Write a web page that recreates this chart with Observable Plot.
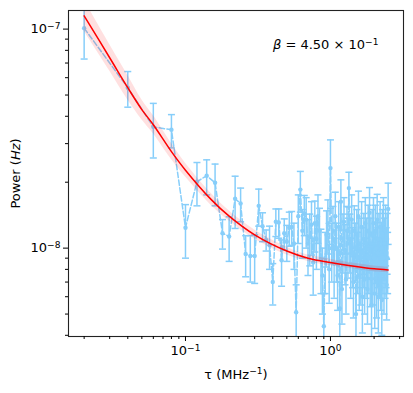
<!DOCTYPE html>
<html>
<head>
<meta charset="utf-8">
<script src="https://cdn.jsdelivr.net/npm/d3@7"></script>
<script src="https://cdn.jsdelivr.net/npm/@observablehq/plot@0.6"></script>
<style>
  html, body { margin: 0; padding: 0; background: white; }
  #chart { width: 413px; height: 393px; }
</style>
</head>
<body>
<div id="chart"></div>
<script>
// ---- data (power values in units of 1e-9 Hz) ----
const unit = 1e-9;
const tau = [0.02,0.04,0.06,0.08,0.10,0.12,0.14,0.16,0.18,0.20,0.22,0.24,0.26,0.28,0.30,0.32,0.34,0.36,0.38,0.40,
  0.42,0.44,0.46,0.48,0.50,0.52,0.54,0.56,0.58,0.60,0.62,0.64,0.66,0.68,0.70,0.72,0.74,0.76,0.78,0.80,
  0.82,0.84,0.86,0.88,0.90,0.92,0.94,0.96,0.98,1.00,1.02,1.04,1.06,1.08,1.10,1.12,1.14,1.16,1.18,1.20,
  1.22,1.24,1.26,1.28,1.30,1.32,1.34,1.36,1.38,1.40,1.42,1.44,1.46,1.48,1.50,1.52,1.54,1.56,1.58,1.60,
  1.62,1.64,1.66,1.68,1.70,1.72,1.74,1.76,1.78,1.80,1.82,1.84,1.86,1.88,1.90,1.92,1.94,1.96,1.98,2.00,
  2.02,2.04,2.06,2.08,2.10,2.12,2.14,2.16,2.18,2.20,2.22,2.24,2.26,2.28,2.30,2.32,2.34,2.36,2.38,2.40,
  2.42,2.44,2.46,2.48,2.50];
const power = [101,54,35.8,34.7,12.4,20.1,21.4,19.9,11.7,11.3,16.8,16.0,9.4,9.2,9.2,15.6,12.6,10.9,10.3,7.0,
  13.2,13.1,8.8,11.7,10.7,12.4,12.5,10.5,5.1,14.0,18.5,12.0,14.4,13.5,10.5,11.3,12.8,8.6,13.0,11.0,
  14.0,12.0,9.2,7.5,4.4,9.0,11.5,13.0,8.0,23.2,10.0,12.0,8.5,14.0,10.0,7.5,12.5,5.3,16.3,6.5,
  11.0,13.2,9.8,7.2,12.0,10.5,18.8,11.0,8.5,13.5,9.5,7.0,12.0,10.0,5.0,11.5,9.0,14.0,7.5,10.5,
  8.0,12.5,6.0,9.5,11.0,7.2,13.0,8.5,10.5,6.5,12.0,9.0,14.5,7.8,10.5,5.5,11.5,8.0,13.0,9.0,
  6.2,12.0,10.0,7.0,13.5,9.5,6.0,11.0,8.5,12.5,7.5,10.0,5.8,11.5,9.0,13.0,7.2,10.5,8.5,12.0,
  9.5,6.8,11.0,9.0,15.1];
const powerErr = [28,10,10,6,3.4,4.5,3.9,4.3,1.8,2.6,4.5,2.8,2.0,2.2,2.3,3.0,1.9,1.2,2.3,1.5,
  1.9,2.0,2.1,1.9,2.0,2.2,2.2,2.5,1.7,3.5,3.9,3.0,3.0,3.5,3.0,3.0,3.5,2.5,3.4,3.0,
  3.5,3.2,3.0,2.5,1.8,2.8,3.3,3.6,2.4,8.0,3.0,3.5,2.6,4.0,3.0,2.3,3.8,1.7,4.2,2.0,
  3.3,3.8,3.0,2.2,3.5,3.2,3.4,3.3,2.6,4.0,2.9,2.2,3.6,3.0,1.6,3.5,2.8,4.2,2.3,3.2,
  2.5,3.8,1.9,2.9,3.4,2.2,4.0,2.6,3.2,2.0,3.7,2.8,4.4,2.4,3.2,1.7,3.5,2.5,4.0,2.8,
  1.9,3.7,3.1,2.2,4.1,2.9,1.9,3.4,2.6,3.8,2.3,3.1,1.8,3.5,2.8,4.0,2.2,3.2,2.6,3.7,
  2.9,2.1,3.4,2.8,4.7];
// fitted model curve and its confidence band
const fitTau = [0.02,0.03,0.04,0.05,0.06,0.08,0.10,0.15,0.20,0.30,0.50,0.70,1.00,1.50,2.00,2.50];
const fitPower = [115,74,54,42.9,36.6,27.6,22.7,16.7,14.0,11.5,9.7,9.0,8.6,8.25,8.05,7.95];
const fitLower = [97.8,64.4,47.5,38.6,33.3,25.4,21.1,15.7,13.3,11.0,9.3,8.7,8.3,8.0,7.8,7.71];
const fitUpper = [135.7,85.1,61.6,47.6,40.3,30.1,24.4,17.8,14.8,12.1,10.1,9.3,8.9,8.5,8.29,8.19];
const annotation = "β = 4.50 × 10^-1";
const xLabel = "τ (MHz^-1)";
const yLabel = "Power (Hz)";
const xTicks = [0.1, 1];
const xTickLabels = ["10^-1", "10^0"];
const yTicks = [1e-8, 1e-7];
const yTickLabels = ["10^-8", "10^-7"];
const xMinor = [0.02,0.03,0.04,0.05,0.06,0.07,0.08,0.09,0.2,0.3,0.4,0.5,0.6,0.7,0.8,0.9,2,3];
const yMinor = [4e-9,5e-9,6e-9,7e-9,8e-9,9e-9,2e-8,3e-8,4e-8,5e-8,6e-8,7e-8,8e-8,9e-8];

// ---- tables ----
const data = tau.map((t, i) => ({
  tau: t, p: power[i] * unit,
  lo: (power[i] - powerErr[i]) * unit, hi: (power[i] + powerErr[i]) * unit
}));
const fit = fitTau.map((t, i) => ({
  tau: t, p: fitPower[i] * unit, lo: fitLower[i] * unit, hi: fitUpper[i] * unit
}));
const labelFor = (ticks, labels) => (d) => {
  let best = 0;
  ticks.forEach((t, i) => { if (Math.abs(Math.log(t / d)) < Math.abs(Math.log(ticks[best] / d))) best = i; });
  return labels[best];
};

const blue = "#87CEFA";
const capSymbol = { draw(ctx, size) { const w = 3.5; ctx.moveTo(-w, 0); ctx.lineTo(w, 0); } };

const chart = Plot.plot({
  width: 413, height: 393,
  marginLeft: 68, marginRight: 10, marginTop: 10, marginBottom: 57,
  style: { fontFamily: "DejaVu Sans", fontSize: "12px", color: "black", background: "white" },
  x: { type: "log", domain: [0.0156, 3.19] },
  y: { type: "log", domain: [3.95e-9, 1.216e-7] },
  marks: [
    Plot.line(data, { x: "tau", y: "p", stroke: blue, strokeWidth: 1.5, strokeDasharray: "5.5,2.4", clip: true }),
    Plot.ruleX(data, { x: "tau", y1: "lo", y2: "hi", stroke: blue, strokeWidth: 1.5, clip: true }),
    Plot.dot(data, { x: "tau", y: "lo", symbol: capSymbol, stroke: blue, strokeWidth: 1.5, clip: true }),
    Plot.dot(data, { x: "tau", y: "hi", symbol: capSymbol, stroke: blue, strokeWidth: 1.5, clip: true }),
    Plot.dot(data, { x: "tau", y: "p", r: 2.2, fill: blue, stroke: null, clip: true }),
    Plot.areaY(fit, { x: "tau", y1: "lo", y2: "hi", fill: "red", fillOpacity: 0.12, curve: "catmull-rom", clip: true }),
    Plot.line(fit, { x: "tau", y: "p", stroke: "red", strokeWidth: 1.5, curve: "catmull-rom", clip: true }),
    Plot.frame({ stroke: "#222", strokeWidth: 1.1 }),
    Plot.axisX({ ticks: xTicks, tickFormat: labelFor(xTicks, xTickLabels), tickSize: 5, tickPadding: 4, label: null, fontSize: 13 }),
    Plot.axisX({ ticks: xMinor, tickFormat: () => "", tickSize: 3, label: null }),
    Plot.axisY({ ticks: yTicks, tickFormat: labelFor(yTicks, yTickLabels), tickSize: 5, tickPadding: 3, label: null, fontSize: 13 }),
    Plot.axisY({ ticks: yMinor, tickFormat: () => "", tickSize: 3, label: null }),
    Plot.text([xLabel], { text: d => d, frameAnchor: "bottom", textAnchor: "middle", dy: 42, fontSize: 13 }),
    Plot.text([yLabel], { text: d => d, frameAnchor: "left", textAnchor: "middle", rotate: -90, dx: -53, fontSize: 13 }),
    Plot.text([annotation], { text: d => d, frameAnchor: "top-right", textAnchor: "end", lineAnchor: "middle", dx: -25, dy: 34, fontSize: 13 })
  ]
});
document.getElementById("chart").appendChild(chart);

// rich text: superscripts after "^", italic for Hz and β
d3.select(chart).selectAll("text").each(function () {
  const t = this.textContent;
  if (!t.includes("^") && !t.includes("Hz)")) return;
  const el = d3.select(this);
  el.text(null);
  const m = t.match(/^(.*?)\^(-?\d+)(.*)$/);
  const pre = m ? m[1] : t, sup = m ? m[2].replace("-", "−") : null, post = m ? m[3] : "";
  const parts = pre.split(/(Hz|β)/);
  parts.forEach(p => {
    if (!p) return;
    const ts = el.append("tspan").text(p);
    if ((p === "Hz" && t.startsWith("Power")) || p === "β") ts.attr("font-style", "italic");
  });
  if (sup) {
    el.append("tspan").attr("dy", "-0.45em").attr("font-size", "70%").text(sup);
    if (post) el.append("tspan").attr("dy", "0.32em").text(post);
  }
});
</script>
</body>
</html>
